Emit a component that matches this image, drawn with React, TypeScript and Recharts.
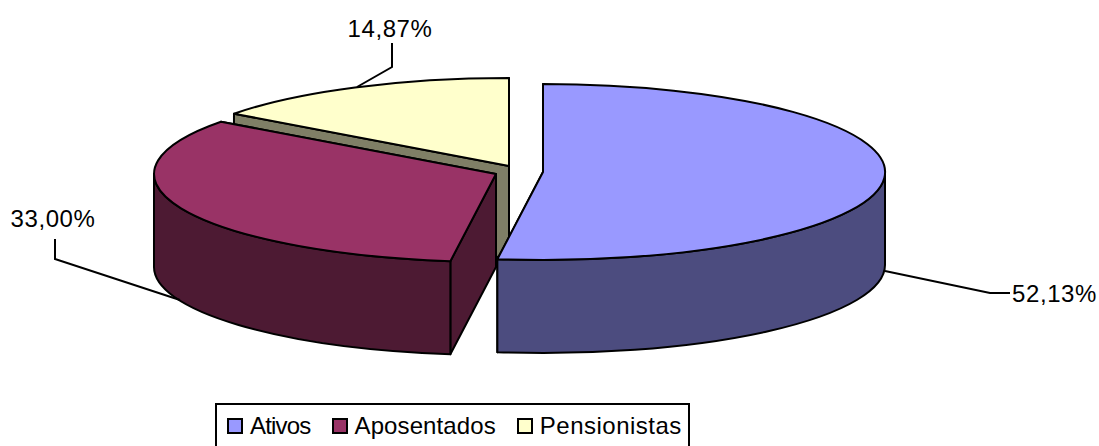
import React from "react";
import { PieChart, Pie, Legend } from "recharts";

// drawn back to front, so the pie runs counter-clockwise from the top
const NAMES = ["Pensionistas", "Aposentados", "Ativos"];
const VALUES = [14.87, 33.0, 52.13];
const LABELS = ["14,87%", "33,00%", "52,13%"];
const TOP_COLORS = ["#FFFFCC", "#993366", "#9999FF"];
const WALL_COLORS = ["#7F7F66", "#4D1A33", "#4C4C7F"];
const LEGEND_ORDER = [2, 1, 0];

const pieData = NAMES.map((name, i) => ({ name, value: VALUES[i], fill: TOP_COLORS[i] }));

const FONT = "'Liberation Sans', Arial, sans-serif";
const SQUASH = 88 / 342;
const DEPTH = 93;
// exploded offset of each slice from the pie's centre
const EXPLODE = [
  [0, 0],
  [-13, 8],
  [34, 6],
];
const LEADERS = [
  { points: "357,87 392,67 392,43", x: 390, y: 28, anchor: "middle" },
  { points: "55,239 55,259 180,300", x: 53, y: 218, anchor: "middle" },
  { points: "885,271 990,293 1010,293", x: 1012, y: 293, anchor: "start" },
];
// the old renderer spaced each legend word a little differently
const LEGEND_SPACING: Record<string, number> = { Ativos: -0.8, Aposentados: 0.1, Pensionistas: 0.5 };

const rad = (deg: number) => (deg * Math.PI) / 180;

function Slice3D(props: any) {
  const { cx, cy, outerRadius, startAngle, endAngle, index, fill } = props;
  const i = index ?? NAMES.indexOf(props.name);
  const ox = cx + EXPLODE[i][0];
  const oy = cy + EXPLODE[i][1];
  const rx = outerRadius;
  const ry = outerRadius * SQUASH;
  const at = (a: number, dy = 0) =>
    `${(ox + rx * Math.cos(rad(a))).toFixed(2)} ${(oy - ry * Math.sin(rad(a)) + dy).toFixed(2)}`;
  const arc = (from: number, to: number, sweep: number) =>
    `A ${rx} ${ry} 0 ${Math.abs(to - from) > 180 ? 1 : 0} ${sweep} ${at(to)}`;
  const arcLow = (from: number, to: number, sweep: number) =>
    `A ${rx} ${ry} 0 ${Math.abs(to - from) > 180 ? 1 : 0} ${sweep} ${at(to, DEPTH)}`;

  // the part of the rim that faces the viewer
  const a0 = Math.max(startAngle, 180);
  const a1 = Math.min(endAngle, 360);
  const center = `${ox} ${oy}`;
  const centerLow = `${ox} ${oy + DEPTH}`;
  const wall = WALL_COLORS[i];
  const line = { stroke: "#000", strokeWidth: 2, strokeLinejoin: "round" as const };

  return (
    <g>
      <path d={`M ${center} L ${at(startAngle)} L ${at(startAngle, DEPTH)} L ${centerLow} Z`} fill={wall} {...line} />
      <path d={`M ${center} L ${at(endAngle)} L ${at(endAngle, DEPTH)} L ${centerLow} Z`} fill={wall} {...line} />
      {a1 > a0 && (
        <path
          d={`M ${at(a0)} ${arc(a0, a1, 0)} L ${at(a1, DEPTH)} ${arcLow(a1, a0, 1)} Z`}
          fill={wall}
          {...line}
        />
      )}
      <path d={`M ${center} L ${at(startAngle)} ${arc(startAngle, endAngle, 0)} Z`} fill={fill} {...line} />
    </g>
  );
}

function SliceLabel({ index }: any) {
  const leader = LEADERS[index];
  return (
    <g>
      <polyline points={leader.points} fill="none" stroke="#000" strokeWidth={2} />
      <text
        x={leader.x}
        y={leader.y}
        textAnchor={leader.anchor as any}
        dominantBaseline="central"
        fontFamily={FONT}
        fontSize={24}
        letterSpacing={0.6}
        fill="#000"
      >
        {LABELS[index]}
      </text>
    </g>
  );
}

function LegendBox() {
  return (
    <div
      style={{
        position: "absolute",
        left: 215,
        top: 403,
        width: 471,
        height: 60,
        border: "2px solid #000",
        boxSizing: "content-box",
        fontFamily: FONT,
        fontSize: 24,
        color: "#000",
        whiteSpace: "nowrap",
      }}
    >
      <div style={{ display: "flex", alignItems: "center", height: 42 }}>
        {LEGEND_ORDER.map((i, n) => (
          <span
            key={NAMES[i]}
            style={{
              display: "flex",
              alignItems: "center",
              marginLeft: n === 0 ? 10 : 21,
              letterSpacing: LEGEND_SPACING[NAMES[i]],
            }}
          >
            <span
              style={{
                display: "inline-block",
                width: 12,
                height: 12,
                border: "2px solid #000",
                background: TOP_COLORS[i],
                marginRight: 7,
              }}
            />
            {NAMES[i]}
          </span>
        ))}
      </div>
    </div>
  );
}

export default function App() {
  return (
    <div style={{ position: "absolute", left: 0, top: 0, width: 1099, height: 446, background: "#fff", overflow: "hidden" }}>
      <PieChart width={1099} height={446} margin={{ top: 0, right: 0, bottom: 0, left: 0 }}>
        <Pie
          data={pieData}
          dataKey="value"
          nameKey="name"
          cx={509}
          cy={166}
          innerRadius={0}
          outerRadius={342}
          startAngle={90}
          endAngle={450}
          stroke="none"
          shape={Slice3D}
          label={SliceLabel}
          labelLine={false}
          isAnimationActive={false}
        />
        <Legend content={() => <LegendBox />} wrapperStyle={{ position: "static" }} />
      </PieChart>
    </div>
  );
}
